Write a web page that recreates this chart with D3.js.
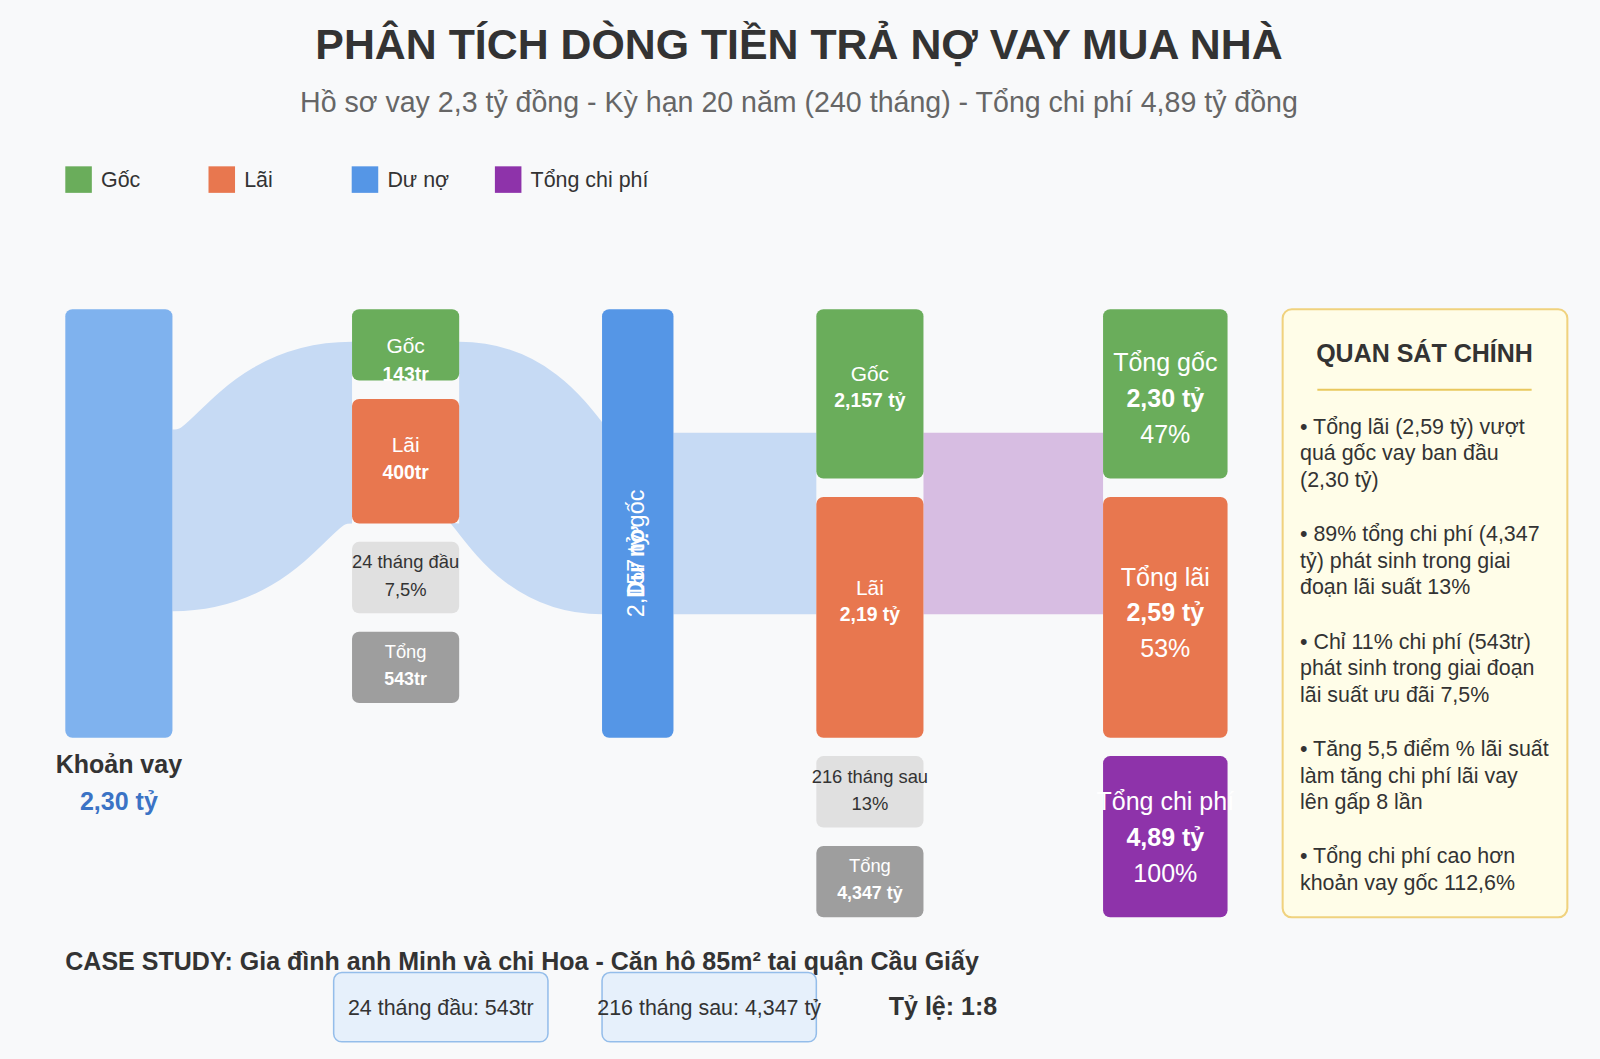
<!DOCTYPE html>
<html><head><meta charset="utf-8">
<script src="https://cdn.jsdelivr.net/npm/d3@7"></script>
<style>
html,body{margin:0;padding:0;background:#f8f9fa;}
svg{display:block;font-family:"Liberation Sans",Arial,Helvetica,sans-serif;}
</style></head><body>
<svg id="chart" width="1600" height="1059"></svg>
<script>
// ---------------- DATA ----------------
const titleText = "PHÂN TÍCH DÒNG TIỀN TRẢ NỢ VAY MUA NHÀ";
const subtitleText = "Hồ sơ vay 2,3 tỷ đồng - Kỳ hạn 20 năm (240 tháng) - Tổng chi phí 4,89 tỷ đồng";
const legendLabels = ["Gốc", "Lãi", "Dư nợ", "Tổng chi phí"];
const loanAmount = 2.30;                 // tỷ
const phase1Months = 24, phase1Rate = 7.5;
const phase1Principal = 143, phase1Interest = 400, phase1Total = 543; // triệu
const remainingDebt = 2.157;             // tỷ
const phase2Months = 216, phase2Rate = 13;
const phase2Principal = 2.157, phase2Interest = 2.19, phase2Total = 4.347; // tỷ
const totalPrincipal = 2.30, totalInterest = 2.59, totalCost = 4.89;
const principalShare = 47, interestShare = 53, costShare = 100;
const ratioText = "1:8";
const caseStudy = "CASE STUDY: Gia đình anh Minh và chị Hoa - Căn hộ 85m² tại quận Cầu Giấy";
const insightTitle = "QUAN SÁT CHÍNH";
const insights = [
  ["• Tổng lãi (2,59 tỷ) vượt", "quá gốc vay ban đầu", "(2,30 tỷ)"],
  ["• 89% tổng chi phí (4,347", "tỷ) phát sinh trong giai", "đoạn lãi suất 13%"],
  ["• Chỉ 11% chi phí (543tr)", "phát sinh trong giai đoạn", "lãi suất ưu đãi 7,5%"],
  ["• Tăng 5,5 điểm % lãi suất", "làm tăng chi phí lãi vay", "lên gấp 8 lần"],
  ["• Tổng chi phí cao hơn", "khoản vay gốc 112,6%"]
];

// ---------------- STYLE / LAYOUT ----------------
const C = {green:"#6aad5b", orange:"#e8774f", blue:"#5596e6", loan:"#7fb2ee",
  purple:"#8e33aa", lightGray:"#e0e0e0", darkGray:"#9e9e9e",
  linkBlue:"#c6daf4", linkPurple:"#d7bde2", text:"#333", sub:"#666"};
const vn = d3.formatLocale({decimal:",", thousands:".", grouping:[3], currency:["", "₫"]});
const f1 = vn.format(".1f"), f2 = vn.format(".2f"), f3 = vn.format(".3f");
const ty = v => v + " tỷ";

const svgRoot = d3.select("#chart");
svgRoot.append("rect").attr("width",1600).attr("height",1059).attr("fill","#f8f9fa");
const svg = svgRoot.append("g").attr("transform", `scale(${1600/1568})`);

function txt(g, x, y, s, size, weight, fill, anchor){
  return g.append("text").attr("x",x).attr("y",y).text(s)
    .attr("font-size",size).attr("font-weight",weight||"normal")
    .attr("fill",fill||C.text).attr("text-anchor",anchor||"middle");
}

// title
txt(svg, 783, 58, titleText, 42, "bold", C.text);
txt(svg, 783, 110, subtitleText, 28, "normal", C.sub);

// legend
const legendColors = [C.green, C.orange, C.blue, C.purple];
const lx = d3.scalePoint().domain(legendLabels).range([64, 485]);
const lg = svg.append("g").selectAll("g").data(legendLabels).join("g")
  .attr("transform", d => `translate(${lx(d)},163)`);
lg.append("rect").attr("width",26).attr("height",26).attr("fill",(d,i)=>legendColors[i]);
lg.append("text").attr("x",35).attr("y",20).attr("font-size",21).attr("fill",C.text).text(d=>d);

// columns
const top0 = 303, gap = 18;
const cols = {
  loan: {x:64, w:105}, p1:{x:345, w:105}, debt:{x:590, w:70}, p2:{x:800, w:105}, tot:{x:1081, w:122}
};
function stack(col, heights){
  let y = top0; return heights.map(h => { const r = {x:cols[col].x, w:cols[col].w, y, h}; y += h + gap; return r; });
}
const p1Pos = stack("p1", [70,122,70,70]);
const p2Pos = stack("p2", [166,236,70,70]);
const totPos = stack("tot", [166,236,158]);
const loanPos = stack("loan", [420])[0];
const debtPos = stack("debt", [420])[0];

const nodes = [
  {pos:loanPos, fill:C.loan, lines:[]},
  {pos:p1Pos[0], fill:C.green, lines:[["Gốc",43,20.5,"normal","#fff"],[phase1Principal+"tr",70,19,"bold","#fff"]]},
  {pos:p1Pos[1], fill:C.orange, lines:[["Lãi",52,20.5,"normal","#fff"],[phase1Interest+"tr",78,19,"bold","#fff"]]},
  {pos:p1Pos[2], fill:C.lightGray, lines:[[phase1Months+" tháng đầu",26,18,"normal",C.text],[f1(phase1Rate)+"%",53,18,"normal",C.text]]},
  {pos:p1Pos[3], fill:C.darkGray, lines:[["Tổng",26,18,"normal","#fff"],[phase1Total+"tr",52,17.5,"bold","#fff"]]},
  {pos:debtPos, fill:C.blue, lines:[]},
  {pos:p2Pos[0], fill:C.green, lines:[["Gốc",70,20.5,"normal","#fff"],[ty(f3(phase2Principal)),96,19,"bold","#fff"]]},
  {pos:p2Pos[1], fill:C.orange, lines:[["Lãi",96,20.5,"normal","#fff"],[ty(f2(phase2Interest)),122,19,"bold","#fff"]]},
  {pos:p2Pos[2], fill:C.lightGray, lines:[[phase2Months+" tháng sau",26,18,"normal",C.text],[phase2Rate+"%",53,18,"normal",C.text]]},
  {pos:p2Pos[3], fill:C.darkGray, lines:[["Tổng",26,18,"normal","#fff"],[ty(f3(phase2Total)),52,17.5,"bold","#fff"]]},
  {pos:totPos[0], fill:C.green, lines:[["Tổng gốc",61,24.5,"normal","#fff"],[ty(f2(totalPrincipal)),96,24.5,"bold","#fff"],[principalShare+"%",131,24.5,"normal","#fff"]]},
  {pos:totPos[1], fill:C.orange, lines:[["Tổng lãi",87,24.5,"normal","#fff"],[ty(f2(totalInterest)),122,24.5,"bold","#fff"],[interestShare+"%",157,24.5,"normal","#fff"]]},
  {pos:totPos[2], fill:C.purple, lines:[["Tổng chi phí",53,24.5,"normal","#fff"],[ty(f2(totalCost)),88,24.5,"bold","#fff"],[costShare+"%",123,24.5,"normal","#fff"]]}
];

// links
const wScale = d3.scaleLinear().domain([0, loanAmount]).range([0, 178]);
const cy = p => p.y + p.h/2;
const lw = wScale(loanAmount);
const p1Anchor = p1Pos[1].y + p1Pos[1].h - lw/2;
const links = [
  {s:[loanPos.x+loanPos.w, cy(loanPos)-3], t:[p1Pos[0].x, p1Anchor], v:loanAmount, c:C.linkBlue},
  {s:[p1Pos[0].x+p1Pos[0].w, p1Anchor], t:[debtPos.x, cy(debtPos)], v:loanAmount, c:C.linkBlue},
  {s:[debtPos.x+debtPos.w, cy(debtPos)], t:[p2Pos[0].x, cy(debtPos)], v:loanAmount, c:C.linkBlue},
  {s:[p2Pos[0].x+p2Pos[0].w, cy(debtPos)], t:[totPos[0].x, cy(debtPos)], v:loanAmount, c:C.linkPurple}
];
const linkGen = d3.linkHorizontal().source(d=>d.s).target(d=>d.t);
svg.append("g").selectAll("path").data(links).join("path")
  .attr("d", linkGen).attr("fill","none").attr("stroke",d=>d.c)
  .attr("stroke-width", d=>wScale(d.v));

// nodes
const ng = svg.append("g").selectAll("g").data(nodes).join("g");
ng.append("rect").attr("x",d=>d.pos.x).attr("y",d=>d.pos.y)
  .attr("width",d=>d.pos.w).attr("height",d=>d.pos.h).attr("rx",7).attr("fill",d=>d.fill);
ng.each(function(d){
  const g = d3.select(this);
  d.lines.forEach(l => txt(g, d.pos.x + d.pos.w/2, d.pos.y + l[1], l[0], l[2], l[3], l[4]));
});

// loan label
txt(svg, loanPos.x + loanPos.w/2, loanPos.y + loanPos.h + 35, "Khoản vay", 24.5, "bold", C.text);
txt(svg, loanPos.x + loanPos.w/2, loanPos.y + loanPos.h + 71, ty(f2(loanAmount)), 24.5, "bold", "#3b73c5");

// debt vertical label (overlapping texts as in reference)
const dx = debtPos.x + debtPos.w/2 + 6, dy = debtPos.y + debtPos.h - 118;
const dg = svg.append("g").attr("transform", `translate(${dx},${dy}) rotate(-90)`);
txt(dg, 0, 0, ty(f3(remainingDebt)) + " gốc", 23, "normal", "#fff", "start");
txt(dg, 0, 0, "Dư nợ", 23, "bold", "#fff", "start").attr("dx", "0.834em");

// insights panel
const ip = svg.append("g");
ip.append("rect").attr("x",1257).attr("y",303).attr("width",279).attr("height",596)
  .attr("rx",9).attr("fill","#fffde8").attr("stroke","#f0d27e").attr("stroke-width",2);
txt(ip, 1396, 355, insightTitle, 24.5, "bold", C.text);
ip.append("line").attr("x1",1291).attr("x2",1501).attr("y1",382).attr("y2",382)
  .attr("stroke","#e9c85e").attr("stroke-width",2);
insights.forEach((para, i) => {
  para.forEach((line, j) => txt(ip, 1274, 425 + i*105.3 + j*26, line, 21, "normal", C.text, "start"));
});

// case study
txt(svg, 64, 951, caseStudy, 24.5, "bold", C.text, "start");
const boxes = [phase1Months + " tháng đầu: " + phase1Total + "tr", phase2Months + " tháng sau: " + ty(f3(phase2Total))];
const bx = [327, 590];
boxes.forEach((b, i) => {
  svg.append("rect").attr("x",bx[i]).attr("y",953).attr("width",210).attr("height",68).attr("rx",8)
    .attr("fill","#e6f0fb").attr("stroke","#94bdea").attr("stroke-width",1.5);
  txt(svg, bx[i] + 105, 995, b, 21, "normal", C.text);
});
txt(svg, 871, 995, "Tỷ lệ: " + ratioText, 24.5, "bold", C.text, "start");
</script>
</body></html>
